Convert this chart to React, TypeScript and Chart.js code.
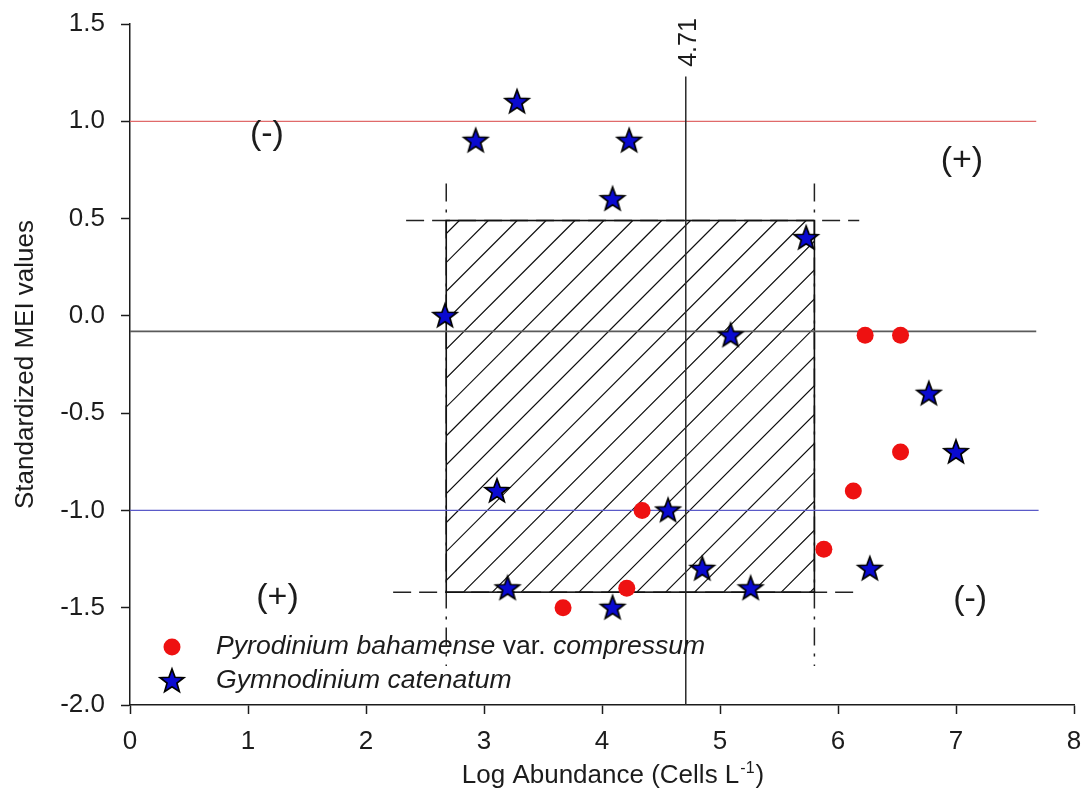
import React, { useEffect, useRef } from "react";
import { Chart, registerables } from "chart.js";

Chart.register(...registerables);

// ---------- data ----------
const pyroX = [6.23, 6.53, 6.53, 6.13, 5.88, 4.34, 4.21, 3.67];
const pyroY = [-0.1, -0.1, -0.7, -0.9, -1.2, -1.0, -1.4, -1.5];

const gymnoX = [2.93, 3.28, 4.23, 4.09, 5.73, 2.67, 5.09, 6.77, 7.0, 3.11, 4.56, 4.85, 6.27, 3.2, 5.26, 4.09];
const gymnoY = [0.9, 1.1, 0.9, 0.6, 0.4, 0.0, -0.1, -0.4, -0.7, -0.9, -1.0, -1.3, -1.3, -1.4, -1.4, -1.5];

const seriesNames = ["Pyrodinium bahamense var. compressum", "Gymnodinium catenatum"];
const legendPrefix = ["Pyrodinium bahamense", "Gymnodinium catenatum"];
const legendSuffix = [" var. ", ""];
const legendTail = ["compressum", ""];

const xTickValues = [0, 1, 2, 3, 4, 5, 6, 7, 8];
const xTickLabels = ["0", "1", "2", "3", "4", "5", "6", "7", "8"];
const yTickValues = [-2.0, -1.5, -1.0, -0.5, 0.0, 0.5, 1.0, 1.5];
const yTickLabels = ["-2.0", "-1.5", "-1.0", "-0.5", "0.0", "0.5", "1.0", "1.5"];

const xTitle = "Log Abundance (Cells L";
const xTitleSup = "-1";
const xTitleEnd = ")";
const yTitle = "Standardized MEI values";

const refLineY = [1.0, -0.08, -1.0];
const refLineXEnd = [7.68, 7.68, 7.7];
const thresholdX = 4.71;
const thresholdLabel = "4.71";
const thresholdTopY = 1.23;

const boxXRange = [2.68, 5.8];
const boxYRange = [-1.42, 0.49];
const boxTopLineX = [2.34, 6.18];
const boxBottomLineX = [2.23, 6.18];
const boxVLineY = [-1.8, 0.68];

const quadrantLabels = ["(-)", "(+)", "(+)", "(-)"];
const quadrantX = [1.16, 7.05, 1.25, 7.12];
const quadrantY = [0.93, 0.8, -1.45, -1.46];

// ---------- styles ----------
const FONT = "'Liberation Sans', Arial, sans-serif";
const INK = "#1c1c1c";
const RED = "#ee1111";
const BLUE = "#0a0ad0";
const REF_COLORS = ["#e06a6a", "#5a5a5a", "#5a5ac8"];

function makeStar(): HTMLCanvasElement {
  const s = 30;
  const c = document.createElement("canvas");
  c.width = s;
  c.height = s;
  const g = c.getContext("2d")!;
  const cx = s / 2;
  const cy = s / 2 + 0.5;
  const ro = 12.5;
  const ri = 5.2;
  g.beginPath();
  for (let i = 0; i < 10; i++) {
    const r = i % 2 === 0 ? ro : ri;
    const a = -Math.PI / 2 + (i * Math.PI) / 5;
    const px = cx + r * Math.cos(a);
    const py = cy + r * Math.sin(a);
    if (i === 0) g.moveTo(px, py);
    else g.lineTo(px, py);
  }
  g.closePath();
  g.fillStyle = BLUE;
  g.fill();
  g.lineWidth = 1.7;
  g.lineJoin = "miter";
  g.strokeStyle = "#000";
  g.stroke();
  return c;
}

export default function App() {
  const ref = useRef<HTMLCanvasElement | null>(null);

  useEffect(() => {
    const canvas = ref.current;
    if (!canvas) return;
    const star = makeStar();

    const overlay = {
      id: "overlay",
      beforeDatasetsDraw(chart: any) {
        const { ctx } = chart;
        const xs = chart.scales.x;
        const ys = chart.scales.y;
        const px = (v: number) => xs.getPixelForValue(v);
        const py = (v: number) => ys.getPixelForValue(v);

        const L = px(boxXRange[0]);
        const R = px(boxXRange[1]);
        const T = py(boxYRange[1]);
        const B = py(boxYRange[0]);

        // hatch
        ctx.save();
        ctx.beginPath();
        ctx.rect(L, T, R - L, B - T);
        ctx.clip();
        ctx.strokeStyle = "#111";
        ctx.lineWidth = 1.2;
        const h = B - T;
        const step = 28.9;
        let start = L + 42;
        while (start > L) start -= step;
        ctx.beginPath();
        for (let sx = start; sx - h < R + step; sx += step) {
          ctx.moveTo(sx - h, B);
          ctx.lineTo(sx, T);
        }
        ctx.stroke();
        ctx.restore();

        // dashed extension lines
        ctx.save();
        ctx.strokeStyle = "#222";
        ctx.lineWidth = 1.5;
        ctx.setLineDash([18, 8]);
        ctx.beginPath();
        ctx.moveTo(px(boxTopLineX[0]), T);
        ctx.lineTo(px(boxTopLineX[1]), T);
        ctx.stroke();
        ctx.beginPath();
        ctx.moveTo(px(boxBottomLineX[0]), B);
        ctx.lineTo(px(boxBottomLineX[1]), B);
        ctx.stroke();
        ctx.setLineDash([18, 8, 3, 8]);
        ctx.beginPath();
        ctx.moveTo(L, py(boxVLineY[1]));
        ctx.lineTo(L, py(boxVLineY[0]));
        ctx.stroke();
        ctx.beginPath();
        ctx.moveTo(R, py(boxVLineY[1]));
        ctx.lineTo(R, py(boxVLineY[0]));
        ctx.stroke();
        ctx.restore();

        // box border
        ctx.save();
        ctx.strokeStyle = "#111";
        ctx.lineWidth = 1.6;
        ctx.strokeRect(L, T, R - L, B - T);
        ctx.restore();

        // horizontal reference lines
        ctx.save();
        refLineY.forEach((v, i) => {
          ctx.strokeStyle = REF_COLORS[i];
          ctx.lineWidth = i === 1 ? 1.6 : 1.3;
          ctx.beginPath();
          ctx.moveTo(px(0), py(v));
          ctx.lineTo(px(refLineXEnd[i]), py(v));
          ctx.stroke();
        });
        // vertical threshold line
        ctx.strokeStyle = "#2a2a2a";
        ctx.lineWidth = 1.5;
        ctx.beginPath();
        ctx.moveTo(px(thresholdX), py(-2));
        ctx.lineTo(px(thresholdX), py(thresholdTopY));
        ctx.stroke();
        ctx.restore();
      },
      afterDraw(chart: any) {
        const { ctx, chartArea } = chart;
        const xs = chart.scales.x;
        const ys = chart.scales.y;
        const px = (v: number) => xs.getPixelForValue(v);
        const py = (v: number) => ys.getPixelForValue(v);

        ctx.save();
        ctx.fillStyle = INK;

        // threshold label
        ctx.save();
        ctx.translate(px(thresholdX) + 10, py(thresholdTopY) - 34);
        ctx.rotate(-Math.PI / 2);
        ctx.font = `25px ${FONT}`;
        ctx.textAlign = "center";
        ctx.textBaseline = "alphabetic";
        ctx.fillText(thresholdLabel, 0, 0);
        ctx.restore();

        // quadrant labels
        ctx.font = `34px ${FONT}`;
        ctx.textAlign = "center";
        ctx.textBaseline = "middle";
        quadrantLabels.forEach((t, i) => {
          ctx.fillText(t, px(quadrantX[i]), py(quadrantY[i]));
        });

        // legend
        const lx = chartArea.left + 42;
        const ly0 = chartArea.bottom - 58;
        const ly1 = chartArea.bottom - 24;
        ctx.beginPath();
        ctx.arc(lx, ly0, 8.5, 0, Math.PI * 2);
        ctx.fillStyle = RED;
        ctx.fill();
        ctx.drawImage(star, lx - star.width / 2, ly1 - star.height / 2);
        ctx.fillStyle = INK;
        ctx.textAlign = "left";
        ctx.textBaseline = "middle";
        const tx = lx + 44;
        const LF = 26.6;
        ctx.font = `italic ${LF}px ${FONT}`;
        let w = ctx.measureText(legendPrefix[0]).width;
        ctx.fillText(legendPrefix[0], tx, ly0);
        ctx.font = `${LF}px ${FONT}`;
        ctx.fillText(legendSuffix[0], tx + w, ly0);
        w += ctx.measureText(legendSuffix[0]).width;
        ctx.font = `italic ${LF}px ${FONT}`;
        ctx.fillText(legendTail[0], tx + w, ly0);
        ctx.fillText(legendPrefix[1], tx, ly1);

        // x title with superscript
        ctx.textBaseline = "alphabetic";
        ctx.textAlign = "left";
        ctx.font = `26px ${FONT}`;
        const w1 = ctx.measureText(xTitle).width;
        ctx.font = `16px ${FONT}`;
        const w2 = ctx.measureText(xTitleSup).width;
        ctx.font = `26px ${FONT}`;
        const w3 = ctx.measureText(xTitleEnd).width;
        const total = w1 + w2 + w3;
        const cx = (chartArea.left + chartArea.right) / 2 + 10;
        const base = chartArea.bottom + 78;
        const x0 = cx - total / 2;
        ctx.fillText(xTitle, x0, base);
        ctx.font = `16px ${FONT}`;
        ctx.fillText(xTitleSup, x0 + w1 + 1, base - 10);
        ctx.font = `26px ${FONT}`;
        ctx.fillText(xTitleEnd, x0 + w1 + w2 + 2, base);

        // y title
        ctx.save();
        ctx.translate(33, (chartArea.top + chartArea.bottom) / 2);
        ctx.rotate(-Math.PI / 2);
        ctx.textAlign = "center";
        ctx.textBaseline = "alphabetic";
        ctx.font = `26px ${FONT}`;
        ctx.fillText(yTitle, 0, 0);
        ctx.restore();

        ctx.restore();
      },
    };

    const chart = new Chart(canvas, {
      type: "scatter",
      data: {
        datasets: [
          {
            label: seriesNames[0],
            data: pyroX.map((x, i) => ({ x, y: pyroY[i] })),
            pointStyle: "circle",
            pointRadius: 8.5,
            pointBackgroundColor: RED,
            pointBorderColor: RED,
            pointBorderWidth: 0,
          },
          {
            label: seriesNames[1],
            data: gymnoX.map((x, i) => ({ x, y: gymnoY[i] })),
            pointStyle: star as any,
            pointRadius: 12,
          },
        ],
      },
      options: {
        animation: false,
        responsive: false,
        devicePixelRatio: 1,
        events: [],
        layout: { padding: { left: 0, top: 24, right: 12, bottom: 0 } },
        plugins: {
          legend: { display: false },
          tooltip: { enabled: false },
          title: { display: false },
        },
        scales: {
          x: {
            type: "linear",
            min: 0,
            max: 8,
            afterBuildTicks: (axis: any) => {
              axis.ticks = xTickValues.map((v) => ({ value: v }));
            },
            afterFit: (axis: any) => {
              axis.height = 90;
              axis.paddingLeft = 0;
              axis.paddingRight = 0;
            },
            ticks: {
              callback: (_v: any, i: number) => xTickLabels[i],
              font: { family: FONT, size: 26 },
              color: INK,
              padding: 12,
              maxRotation: 0,
              autoSkip: false,
            },
            grid: {
              display: true,
              drawOnChartArea: false,
              drawTicks: true,
              tickLength: 9,
              tickColor: INK,
              tickWidth: 1.5,
            },
            border: { display: true, color: INK, width: 1.5 },
          },
          y: {
            type: "linear",
            min: -2,
            max: 1.5,
            afterBuildTicks: (axis: any) => {
              axis.ticks = yTickValues.map((v) => ({ value: v }));
            },
            afterFit: (axis: any) => {
              axis.width = 130;
              axis.paddingTop = 0;
              axis.paddingBottom = 0;
            },
            ticks: {
              callback: (_v: any, i: number) => yTickLabels[i],
              font: { family: FONT, size: 26 },
              color: INK,
              padding: 16,
              autoSkip: false,
            },
            grid: {
              display: true,
              drawOnChartArea: false,
              drawTicks: true,
              tickLength: 9,
              tickColor: INK,
              tickWidth: 1.5,
            },
            border: { display: true, color: INK, width: 1.5 },
          },
        },
      },
      plugins: [overlay],
    } as any);

    return () => chart.destroy();
  }, []);

  return (
    <div style={{ position: "absolute", left: 0, top: 0, width: 1087, height: 795, background: "#fff" }}>
      <canvas ref={ref} width={1087} height={795} style={{ display: "block" }} />
    </div>
  );
}
